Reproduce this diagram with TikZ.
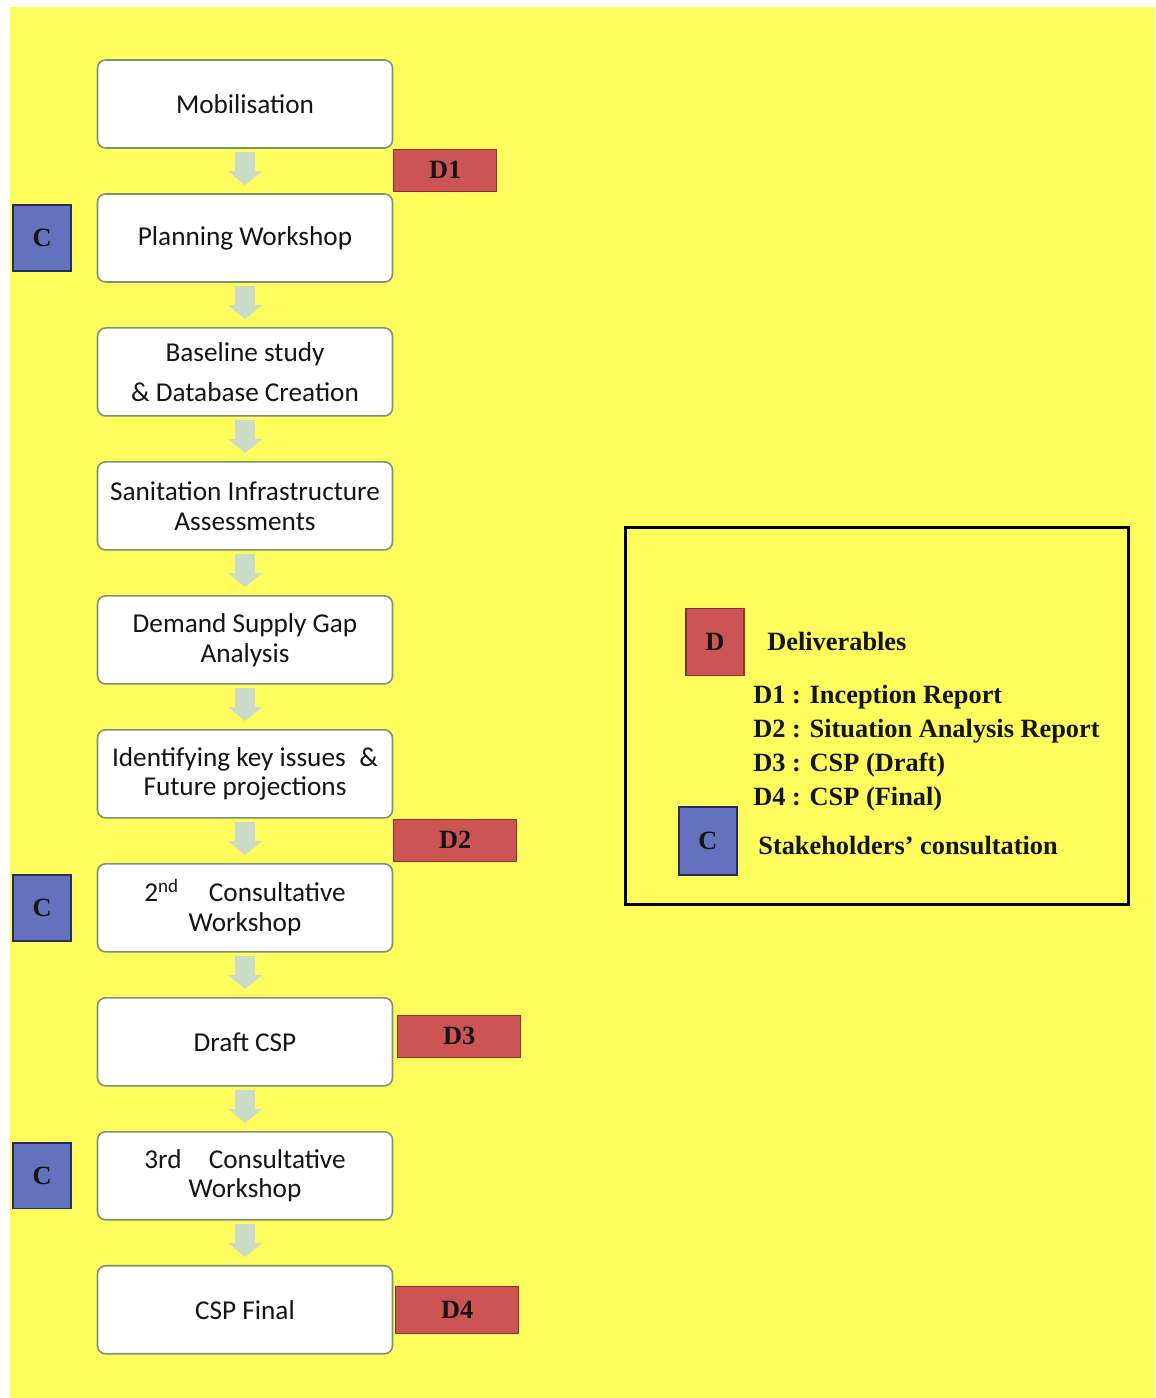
\documentclass[tikz,border=0pt]{standalone}
\usepackage{fontspec}
\setmainfont{Liberation Serif}
\newfontfamily\calibri{Carlito}
\usetikzlibrary{positioning,arrows.meta}

\definecolor{bgyellow}{RGB}{253,252,92}
\definecolor{stageline}{RGB}{125,145,115}
\definecolor{flowgreen}{RGB}{202,220,200}
\definecolor{delivred}{RGB}{204,84,84}
\definecolor{delivline}{RGB}{140,50,50}
\definecolor{consblue}{RGB}{100,114,190}
\definecolor{consline}{RGB}{38,44,88}
\definecolor{ink}{RGB}{20,20,20}

\begin{document}
\begin{tikzpicture}[x=0.02cm, y=-0.02cm, node distance=2.68cm,
    stage/.style={rectangle, rounded corners=0.16cm, draw=stageline, line width=0.9pt, fill=white,
        minimum width=5.9cm, minimum height=1.76cm, align=center, text=ink,
        font=\calibri\fontsize{15.5}{17}\selectfont},
    flow/.style={draw=flowgreen, line width=0.4cm, shorten <=0.06cm, shorten >=0.16cm,
        -{Triangle[width=0.68cm, length=0.28cm, line width=0pt]}},
    deliv/.style={rectangle, draw=delivline, line width=0.6pt, fill=delivred,
        minimum width=2.46cm, minimum height=0.84cm, text=ink,
        font=\bfseries\fontsize{15}{18}\selectfont},
    consult/.style={rectangle, draw=consline, line width=0.8pt, fill=consblue,
        minimum width=1.16cm, minimum height=1.32cm, text=ink,
        font=\bfseries\fontsize{15}{18}\selectfont},
    keytext/.style={anchor=west, inner sep=0pt, text=ink, align=left,
        font=\bfseries\fontsize{15}{19.4}\selectfont}]

    % page and yellow sheet
    \useasboundingbox (0,0) rectangle (1155,1398);
    \fill[bgyellow] (10,7) rectangle (1155,1398);

    % stages
    \node[stage] (mob) at (245,104) {Mobilisation};
    \node[stage] (plan) [below of=mob] {Planning Workshop};
    \node[stage] (base) [below of=plan] {Baseline study\\[6pt]\& Database Creation};
    \node[stage] (sanit) [below of=base] {Sanitation Infrastructure\\Assessments};
    \node[stage] (gap) [below of=sanit] {Demand Supply Gap\\Analysis};
    \node[stage] (issues) [below of=gap] {Identifying key issues\enspace\&\\Future projections};
    \node[stage] (cw2) [below of=issues] {2\textsuperscript{nd}\hspace{1.1em}Consultative\\Workshop};
    \node[stage] (draft) [below of=cw2] {Draft CSP};
    \node[stage] (cw3) [below of=draft] {3rd\hspace{1em}Consultative\\Workshop};
    \node[stage] (final) [below of=cw3] {CSP Final};

    \draw[flow] (mob) -- (plan);
    \draw[flow] (plan) -- (base);
    \draw[flow] (base) -- (sanit);
    \draw[flow] (sanit) -- (gap);
    \draw[flow] (gap) -- (issues);
    \draw[flow] (issues) -- (cw2);
    \draw[flow] (cw2) -- (draft);
    \draw[flow] (draft) -- (cw3);
    \draw[flow] (cw3) -- (final);

    % deliverables and consultations
    \node[deliv, minimum width=2.06cm, anchor=north west] (d1) at (mob.south east) {D1};
    \node[deliv, anchor=north west] (d2) at (issues.south east) {D2};
    \node[deliv, right=0.08cm of draft, yshift=0.11cm] (d3) {D3};
    \node[deliv, minimum height=0.94cm, right=0.04cm of final] (d4) {D4};
    \node[consult, left=0.5cm of plan] (c1) {C};
    \node[consult, left=0.5cm of cw2] (c2) {C};
    \node[consult, left=0.5cm of cw3] (c3) {C};

    % key
    \node[draw=black, line width=1.7pt, minimum width=10.08cm, minimum height=7.56cm] (legend) at (877,716) {};
    \node[deliv, minimum width=1.16cm, minimum height=1.34cm] (dkey) at (715,642) {D};
    \node[keytext] (dhead) at (767,641) {Deliverables};
    \node[keytext] (dlist) at (753,748) {D1 : Inception Report\\D2 : Situation Analysis Report\\D3 : CSP (Draft)\\D4 : CSP (Final)};
    \node[consult, minimum height=1.36cm] (ckey) at (708,841) {C};
    \node[keytext] (chead) at (758,846) {Stakeholders’ consultation};
\end{tikzpicture}
\end{document}
